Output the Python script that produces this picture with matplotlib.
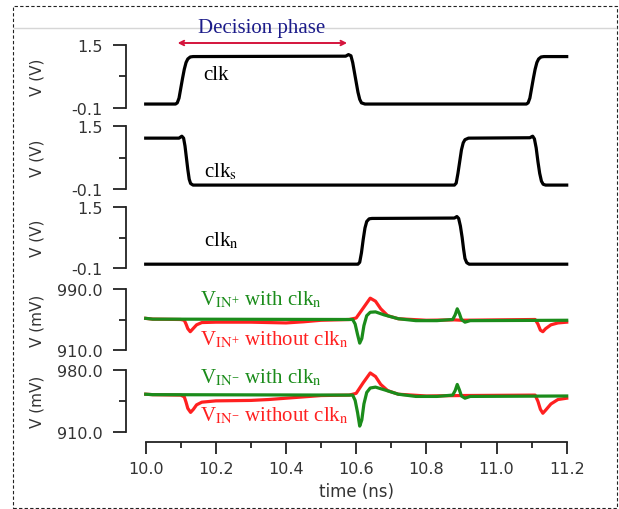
import matplotlib
matplotlib.use("Agg")
import matplotlib.pyplot as plt
from matplotlib.patches import Rectangle
from matplotlib.lines import Line2D

plt.rcParams['font.family'] = ['DejaVu Sans']
plt.rcParams['mathtext.fontset'] = 'stix'
plt.rcParams['axes.unicode_minus'] = False

# ---- data ----
# clk (V)
clk_t = [10.00, 10.085, 10.09, 10.095, 10.10, 10.105, 10.11, 10.115, 10.12, 10.127, 10.135,
         10.57, 10.578, 10.585, 10.59, 10.595, 10.60, 10.605, 10.61, 10.615, 10.625,
         11.085, 11.09, 11.095, 11.10, 11.105, 11.11, 11.115, 11.12, 11.127, 11.135, 11.2]
clk_v = [0.0, 0.0, 0.03, 0.15, 0.4, 0.65, 0.88, 1.05, 1.14, 1.19, 1.2,
         1.21, 1.25, 1.22, 1.05, 0.8, 0.55, 0.3, 0.12, 0.03, 0.0,
         0.0, 0.03, 0.15, 0.4, 0.65, 0.88, 1.05, 1.14, 1.19, 1.2, 1.2]

# clk_s (V)
clks_t = [10.00, 10.095, 10.103, 10.108, 10.112, 10.116, 10.12, 10.124, 10.128, 10.135,
          10.88, 10.885, 10.89, 10.895, 10.90, 10.905, 10.91, 10.92,
          11.095, 11.103, 11.108, 11.113, 11.118, 11.123, 11.128, 11.133, 11.14, 11.2]
clks_v = [1.2, 1.2, 1.25, 1.2, 1.0, 0.7, 0.4, 0.15, 0.04, 0.0,
          0.0, 0.05, 0.3, 0.6, 0.9, 1.08, 1.16, 1.2,
          1.21, 1.25, 1.18, 0.95, 0.6, 0.3, 0.1, 0.02, 0.0, 0.0]

# clk_n (V)
clkn_t = [10.00, 10.605, 10.61, 10.615, 10.62, 10.625, 10.63, 10.637, 10.645,
          10.88, 10.887, 10.892, 10.897, 10.902, 10.906, 10.91, 10.915, 10.922, 11.2]
clkn_v = [0.0, 0.0, 0.05, 0.3, 0.65, 0.95, 1.12, 1.19, 1.2,
          1.21, 1.25, 1.2, 1.0, 0.7, 0.4, 0.15, 0.04, 0.0, 0.0]

# V_IN+ (mV)
vinp_wo_t = [10.00, 10.02, 10.10, 10.11, 10.115, 10.12, 10.127, 10.135, 10.145, 10.16, 10.2,
             10.3, 10.4, 10.45, 10.5, 10.58, 10.6, 10.62, 10.64, 10.655, 10.67, 10.69, 10.72,
             10.8, 10.88, 10.9, 11.11, 11.118, 11.125, 11.132, 11.14, 11.155, 11.175, 11.2]
vinp_wo_v = [951.5, 950.5, 950, 949, 944, 938, 934, 938, 943, 946, 946.5,
             946.5, 945.5, 947, 949, 950, 952, 965, 978, 974, 964, 955, 951,
             949, 949.5, 949, 950, 944, 936, 934, 938, 943, 945.5, 946.5]
vinp_w_t = [10.00, 10.02, 10.59, 10.597, 10.604, 10.61, 10.616, 10.622, 10.63, 10.64, 10.655,
            10.68, 10.72, 10.77, 10.83, 10.875, 10.882, 10.888, 10.894, 10.9, 10.91, 10.925, 11.2]
vinp_w_v = [951.5, 950.5, 950, 944, 930, 919, 925, 942, 955, 959.5, 960,
            956, 951, 948.5, 948.5, 950, 956, 964, 958, 950, 946.5, 948.5, 949]

# V_IN- (mV)
vinm_wo_t = [10.00, 10.02, 10.10, 10.11, 10.115, 10.12, 10.128, 10.136, 10.145, 10.16, 10.2,
             10.3, 10.35, 10.4, 10.45, 10.5, 10.58, 10.6, 10.62, 10.64, 10.655, 10.67, 10.69,
             10.72, 10.8, 10.9, 11.11, 11.118, 11.125, 11.132, 11.14, 11.155, 11.175, 11.2]
vinm_wo_v = [953, 952.5, 952, 950, 944, 937, 932.5, 936, 941, 944, 945.5,
             946, 947, 948.5, 950, 951.5, 952, 954, 966, 977, 973, 964, 957,
             953, 951, 951.5, 952, 945, 936, 931.5, 935, 942, 947, 948.5]
vinm_w_t = [10.00, 10.02, 10.59, 10.597, 10.604, 10.61, 10.616, 10.622, 10.63, 10.64, 10.655,
            10.68, 10.72, 10.77, 10.83, 10.875, 10.882, 10.888, 10.894, 10.9, 10.91, 10.925, 11.2]
vinm_w_v = [953, 952.5, 952, 946, 932, 917, 924, 942, 955, 960, 961,
            958, 953, 950.5, 950.5, 952, 957, 964, 958, 951, 948.5, 950.5, 951]

x_ticks = [10.0, 10.2, 10.4, 10.6, 10.8, 11.0, 11.2]
x_minor = [10.1, 10.3, 10.5, 10.7, 10.9, 11.1]

clk_ylim = [-0.1, 1.5]
clk_labels = ['-0.1', '1.5']
vinp_ylim = [910.0, 990.0]
vinp_labels = ['910.0', '990.0']
vinm_ylim = [910.0, 980.0]
vinm_labels = ['910.0', '980.0']

# ---- layout ----
W, H = 619, 510
fig = plt.figure(figsize=(W / 100, H / 100), dpi=100)

# dashed frame and grey rule at the top (behind the axes)
fig.add_artist(Rectangle((13 / W, 1 - 509 / H), 604 / W, 502 / H, transform=fig.transFigure,
                         fill=False, ls=(0, (3, 2)), lw=0.8, ec='#222222', zorder=-2))
fig.add_artist(Line2D([14 / W, 616 / W], [1 - 28.5 / H] * 2, transform=fig.transFigure,
                      color='#d6d6d6', lw=1.0, zorder=-2))

left = 145.7 / W
width = 421 / W
panels_px = [(45.7, 109), (127.4, 190), (208, 269), (290, 351), (371.3, 433.3)]

ink = '#222222'
txt_col = '#333333'
serif = 'Liberation Serif'
green = '#1b8c1b'
red = '#ff2020'

axes = []
for top, bot in panels_px:
    ax = fig.add_axes([left, 1 - bot / H, width, (bot - top) / H])
    ax.set_xlim(10.0, 11.2)
    for s in ['top', 'right', 'bottom']:
        ax.spines[s].set_visible(False)
    ax.spines['left'].set_position(('outward', 14.4))
    ax.spines['left'].set_color(ink)
    ax.spines['left'].set_linewidth(1.3)
    ax.patch.set_visible(False)
    ax.tick_params(axis='y', which='major', length=9.4, width=1.3, color=ink,
                   labelsize=11.5, labelcolor=txt_col, pad=7)
    ax.tick_params(axis='y', which='minor', length=5, width=1.3, color=ink)
    ax.tick_params(axis='x', which='both', bottom=False, labelbottom=False)
    ax.yaxis.set_label_coords(-0.24, 0.5)
    axes.append(ax)

ax1, ax2, ax3, ax4, ax5 = axes

for ax, t, v in [(ax1, clk_t, clk_v), (ax2, clks_t, clks_v), (ax3, clkn_t, clkn_v)]:
    ax.plot(t, v, color='black', lw=2.3, solid_joinstyle='round', clip_on=False)
    ax.set_ylim(clk_ylim)
    ax.set_yticks(clk_ylim)
    ax.set_yticklabels(clk_labels)
    ax.set_yticks([0.7], minor=True)
    ax.set_ylabel('V (V)', fontsize=11, color=txt_col)

for ax, tw, vw, to, vo, lim, labs in [
        (ax4, vinp_w_t, vinp_w_v, vinp_wo_t, vinp_wo_v, vinp_ylim, vinp_labels),
        (ax5, vinm_w_t, vinm_w_v, vinm_wo_t, vinm_wo_v, vinm_ylim, vinm_labels)]:
    ax.plot(to, vo, color=red, lw=2.3, solid_joinstyle='round', clip_on=False)
    ax.plot(tw, vw, color=green, lw=2.3, solid_joinstyle='round', clip_on=False)
    ax.set_ylim(lim)
    ax.set_yticks(lim)
    ax.set_yticklabels(labs)
    ax.set_yticks([(lim[0] + lim[1]) / 2], minor=True)
    ax.set_ylabel('V (mV)', fontsize=11, color=txt_col)

# bottom time axis on the last panel
ax5.spines['bottom'].set_visible(True)
ax5.spines['bottom'].set_position(('outward', 6.8))
ax5.spines['bottom'].set_bounds(10.0, 11.2)
ax5.spines['bottom'].set_color(ink)
ax5.spines['bottom'].set_linewidth(1.3)
ax5.set_xticks(x_ticks)
ax5.set_xticklabels(['%.1f' % x for x in x_ticks])
ax5.set_xticks(x_minor, minor=True)
ax5.tick_params(axis='x', which='major', bottom=True, labelbottom=True, length=8.6,
                width=1.3, color=ink, labelsize=11.5, labelcolor=txt_col, pad=5.5)
ax5.tick_params(axis='x', which='minor', bottom=True, length=4.3, width=1.3, color=ink)
ax5.set_xlabel('time (ns)', fontsize=12, color=txt_col, labelpad=4)

# annotations
ax1.annotate('', xy=(10.083, 1.543), xytext=(10.582, 1.543), xycoords='data',
             arrowprops=dict(arrowstyle='<->', color='#d4143c', lw=1.4, mutation_scale=8),
             annotation_clip=False)
ax1.text(10.33, 1.94, 'Decision phase', family=serif, fontsize=15, color='#1c1c8a',
         ha='center', va='center', clip_on=False)
ax1.text(10.165, 0.63, 'clk', family=serif, fontsize=15, color='black', va='baseline')
ax2.text(10.165, 0.22, r'clk$_{\mathrm{s}}$', family=serif, fontsize=15, color='black',
         va='baseline')
ax3.text(10.165, 0.5, r'clk$_{\mathrm{n}}$', family=serif, fontsize=15, color='black',
         va='baseline')

lab_fs = 15
ax4.text(10.155, 970, r'V$_{\mathrm{IN}^{+}}$ with clk$_{\mathrm{n}}$', family=serif,
         fontsize=lab_fs, color=green, va='baseline')
ax4.text(10.155, 918, r'V$_{\mathrm{IN}^{+}}$ without clk$_{\mathrm{n}}$', family=serif,
         fontsize=lab_fs, color=red, va='baseline')
ax5.text(10.155, 966.4, r'V$_{\mathrm{IN}^{-}}$ with clk$_{\mathrm{n}}$', family=serif,
         fontsize=lab_fs, color=green, va='baseline')
ax5.text(10.155, 923, r'V$_{\mathrm{IN}^{-}}$ without clk$_{\mathrm{n}}$', family=serif,
         fontsize=lab_fs, color=red, va='baseline')

fig.savefig('out.png', dpi=100)
